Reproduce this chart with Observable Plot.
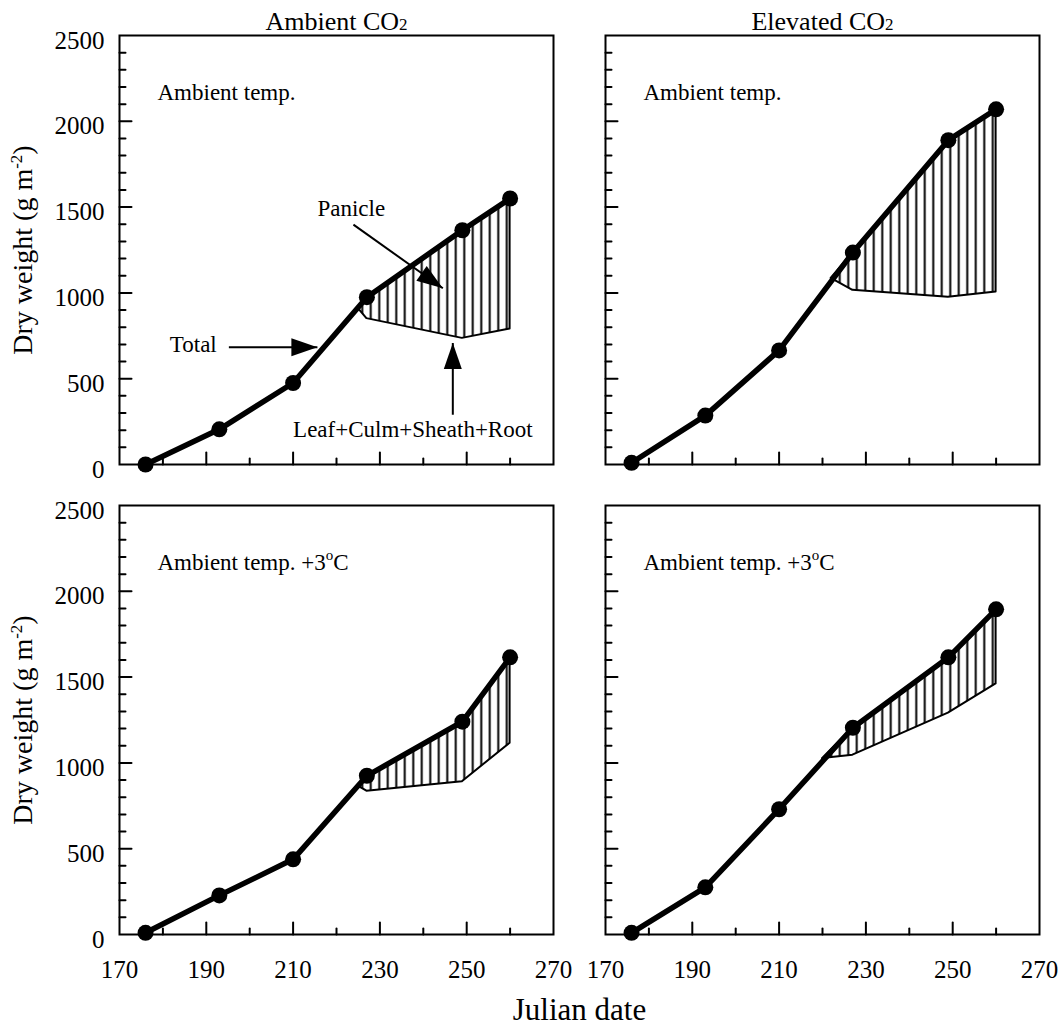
<!DOCTYPE html>
<html>
<head>
<meta charset="utf-8">
<script src="https://cdn.jsdelivr.net/npm/d3@7"></script>
<script src="https://cdn.jsdelivr.net/npm/@observablehq/plot@0.6"></script>
<style>
  html, body { margin: 0; padding: 0; background: #fff; }
  #chart svg { display: block; }
</style>
</head>
<body>
<div id="chart"></div>
<script>
// ---------------- data ----------------
const co2Levels = ["Ambient CO2", "Elevated CO2"];
const tempLevels = ["Ambient temp.", "Ambient temp. +3°C"];
const sampleDays = [176, 193, 210, 227, 249, 260];

// Total dry weight (g m-2)
const totalAmbCO2AmbT   = [0, 205, 475, 975, 1365, 1550];
const totalElevCO2AmbT  = [10, 285, 665, 1235, 1890, 2070];
const totalAmbCO2HighT  = [10, 228, 438, 925, 1240, 1615];
const totalElevCO2HighT = [10, 275, 730, 1205, 1615, 1895];

// Leaf+Culm+Sheath+Root (first entry: where it leaves the total line)
const vegDaysAmbCO2AmbT   = [225, 227, 249, 260];
const vegAmbCO2AmbT       = [910, 850, 735, 790];
const vegDaysElevCO2AmbT  = [222, 227, 249, 260];
const vegElevCO2AmbT      = [1085, 1015, 975, 1005];
const vegDaysAmbCO2HighT  = [225, 227, 249, 260];
const vegAmbCO2HighT      = [865, 835, 890, 1115];
const vegDaysElevCO2HighT = [220, 227, 249, 260];
const vegElevCO2HighT     = [1025, 1045, 1290, 1460];

// ticks
const xTickLabels = [170, 190, 210, 230, 250, 270];
const xMajorTicks = [190, 210, 230, 250];
const xMinorTicks = [180, 200, 220, 240, 260];
const yTickLabels = [0, 500, 1000, 1500, 2000, 2500];
const yMajorTicks = [500, 1000, 1500, 2000];
const yMinorTicks = [100, 200, 300, 400, 600, 700, 800, 900, 1100, 1200, 1300, 1400,
                     1600, 1700, 1800, 1900, 2100, 2200, 2300, 2400];

// annotations (top-left panel)
const annotationTexts = ["Panicle", "Total", "Leaf+Culm+Sheath+Root"];
const annotationDays = [223.4, 187, 210];
const annotationWeights = [1490, 696, 203];
const arrowStartDays = [223.9, 195.2, 246.8];
const arrowStartWeights = [1398, 684, 290];
const arrowEndDays = [244.5, 215.6, 246.8];
const arrowEndWeights = [1027, 684, 708];
const arrowHeadAngles = [125, 90, 0];

const yTitle = "Dry weight (g m-2)";
const xTitle = "Julian date";

// ---------------- tables ----------------
const panels = [
  {co2: co2Levels[0], temp: tempLevels[0], total: totalAmbCO2AmbT,   vegDays: vegDaysAmbCO2AmbT,   veg: vegAmbCO2AmbT},
  {co2: co2Levels[1], temp: tempLevels[0], total: totalElevCO2AmbT,  vegDays: vegDaysElevCO2AmbT,  veg: vegElevCO2AmbT},
  {co2: co2Levels[0], temp: tempLevels[1], total: totalAmbCO2HighT,  vegDays: vegDaysAmbCO2HighT,  veg: vegAmbCO2HighT},
  {co2: co2Levels[1], temp: tempLevels[1], total: totalElevCO2HighT, vegDays: vegDaysElevCO2HighT, veg: vegElevCO2HighT}
];
const totalRows = panels.flatMap(p => sampleDays.map((d, i) => ({co2: p.co2, temp: p.temp, day: d, weight: p.total[i]})));
const areaRows = panels.flatMap(p => p.vegDays.map((d, i) => {
  const j = sampleDays.indexOf(d);
  return {co2: p.co2, temp: p.temp, day: d, lower: p.veg[i], upper: j >= 0 ? p.total[j] : p.veg[i]};
}));
const titleRows = co2Levels.map(c => ({co2: c, temp: tempLevels[0]}));
const panelLabelRows = panels.map(p => ({co2: p.co2, temp: p.temp}));
const yLabelRows = tempLevels.map(t => ({co2: co2Levels[0], temp: t, text: yTitle}));
const annotationRows = annotationTexts.map((t, i) => ({co2: co2Levels[0], temp: tempLevels[0], text: t, day: annotationDays[i], weight: annotationWeights[i]}));
const arrowRows = arrowStartDays.map((d, i) => ({co2: co2Levels[0], temp: tempLevels[0], x1: d, y1: arrowStartWeights[i], x2: arrowEndDays[i], y2: arrowEndWeights[i], angle: arrowHeadAngles[i]}));

// ---------------- shapes ----------------
const tickShape = {draw(context, l) { context.moveTo(0, 0); context.lineTo(0, -l); }};
const arrowHead = {draw(context, size) {
  const r = Math.sqrt(size / Math.PI);
  context.moveTo(0, 0);
  context.lineTo(-0.9 * r, 2.6 * r);
  context.lineTo(0.9 * r, 2.6 * r);
  context.closePath();
}};
const serif = "'Liberation Serif', 'Times New Roman', Times, serif";
const F = {fx: "co2", fy: "temp"};

const chart = Plot.plot({
  width: 1062,
  height: 1026,
  marginLeft: 118,
  marginRight: 23,
  marginTop: 34,
  marginBottom: 91,
  style: {fontFamily: serif, fontSize: "22px", color: "black", background: "white", overflow: "visible"},
  fx: {domain: co2Levels, padding: 0.107, axis: null, label: null},
  fy: {domain: tempLevels, padding: 0.087, axis: null, label: null},
  x: {domain: [170, 270]},
  y: {domain: [0, 2500]},
  marks: [
    Plot.areaY(areaRows, {...F, x: "day", y1: "lower", y2: "upper", fill: "url(#panicle-hatch)", stroke: "black", strokeWidth: 2, strokeLinejoin: "round"}),
    Plot.line(totalRows, {...F, x: "day", y: "weight", stroke: "black", strokeWidth: 5.5, strokeLinejoin: "round", strokeLinecap: "round"}),
    Plot.dot(totalRows, {...F, x: "day", y: "weight", r: 8, fill: "black", stroke: "none"}),
    Plot.frame({stroke: "black", strokeWidth: 2}),
    Plot.vectorX(xMajorTicks, {x: d => d, frameAnchor: "bottom", anchor: "start", length: 12, shape: tickShape, stroke: "black", strokeWidth: 2}),
    Plot.vectorX(xMinorTicks, {x: d => d, frameAnchor: "bottom", anchor: "start", length: 6, shape: tickShape, stroke: "black", strokeWidth: 2}),
    Plot.vectorY(yMajorTicks, {y: d => d, frameAnchor: "left", anchor: "start", rotate: 90, length: 12, shape: tickShape, stroke: "black", strokeWidth: 2}),
    Plot.vectorY(yMinorTicks, {y: d => d, frameAnchor: "left", anchor: "start", rotate: 90, length: 6, shape: tickShape, stroke: "black", strokeWidth: 2}),
    Plot.axisX({ticks: xTickLabels, tickFormat: d => String(d), tickSize: 0, tickPadding: 26, label: null, fontSize: 25}),
    Plot.axisY({ticks: yTickLabels, tickFormat: d => String(d), tickSize: 0, tickPadding: 15, label: null, dy: 5, fontSize: 25}),
    Plot.text(titleRows, {...F, text: "co2", frameAnchor: "top", lineAnchor: "middle", dy: -14, fontSize: 26}),
    Plot.text(panelLabelRows, {...F, text: "temp", frameAnchor: "top-left", lineAnchor: "middle", textAnchor: "start", dx: 38, dy: 57, fontSize: 23}),
    Plot.text(yLabelRows, {...F, text: "text", frameAnchor: "left", lineAnchor: "middle", textAnchor: "middle", rotate: -90, dx: -96, fontSize: 28}),
    Plot.text([xTitle], {text: d => d, facet: "super", frameAnchor: "bottom", lineAnchor: "middle", dy: 76, fontSize: 31}),
    Plot.link(arrowRows, {...F, x1: "x1", y1: "y1", x2: "x2", y2: "y2", stroke: "black", strokeWidth: 2}),
    Plot.dot(arrowRows, {...F, x: "x2", y: "y2", symbol: arrowHead, r: 10, rotate: "angle", fill: "black", stroke: "none"}),
    Plot.text(annotationRows.slice(0, 2), {...F, x: "day", y: "weight", text: "text", fontSize: 23}),
    Plot.text(annotationRows.slice(2), {...F, x: "day", y: "weight", text: "text", textAnchor: "start", fontSize: 23})
  ]
});

// hatch pattern for the panicle area
d3.select(chart).insert("defs", ":first-child").html(
  '<pattern id="panicle-hatch" patternUnits="userSpaceOnUse" width="8.5" height="10">' +
  '<rect width="8.5" height="10" fill="white"/>' +
  '<line x1="4.25" y1="0" x2="4.25" y2="10" stroke="black" stroke-width="2"/></pattern>'
);

// sub/superscripts
d3.select(chart).selectAll("text").each(function () {
  const t = this.textContent;
  const sel = d3.select(this);
  if (t === "Ambient CO2" || t === "Elevated CO2") {
    sel.text(t.slice(0, -1));
    sel.append("tspan").attr("font-size", "17px").text("2");
  } else if (t === "Ambient temp. +3°C") {
    sel.text("Ambient temp. +3");
    sel.append("tspan").attr("font-size", "15px").attr("dy", "-10").text("o");
    sel.append("tspan").attr("dy", "10").text("C");
  } else if (t === yTitle) {
    sel.text("Dry weight (g m");
    sel.append("tspan").attr("font-size", "17px").attr("dy", "-10").text("-2");
    sel.append("tspan").attr("dy", "10").text(")");
  }
});

document.getElementById("chart").appendChild(chart);
</script>
</body>
</html>
